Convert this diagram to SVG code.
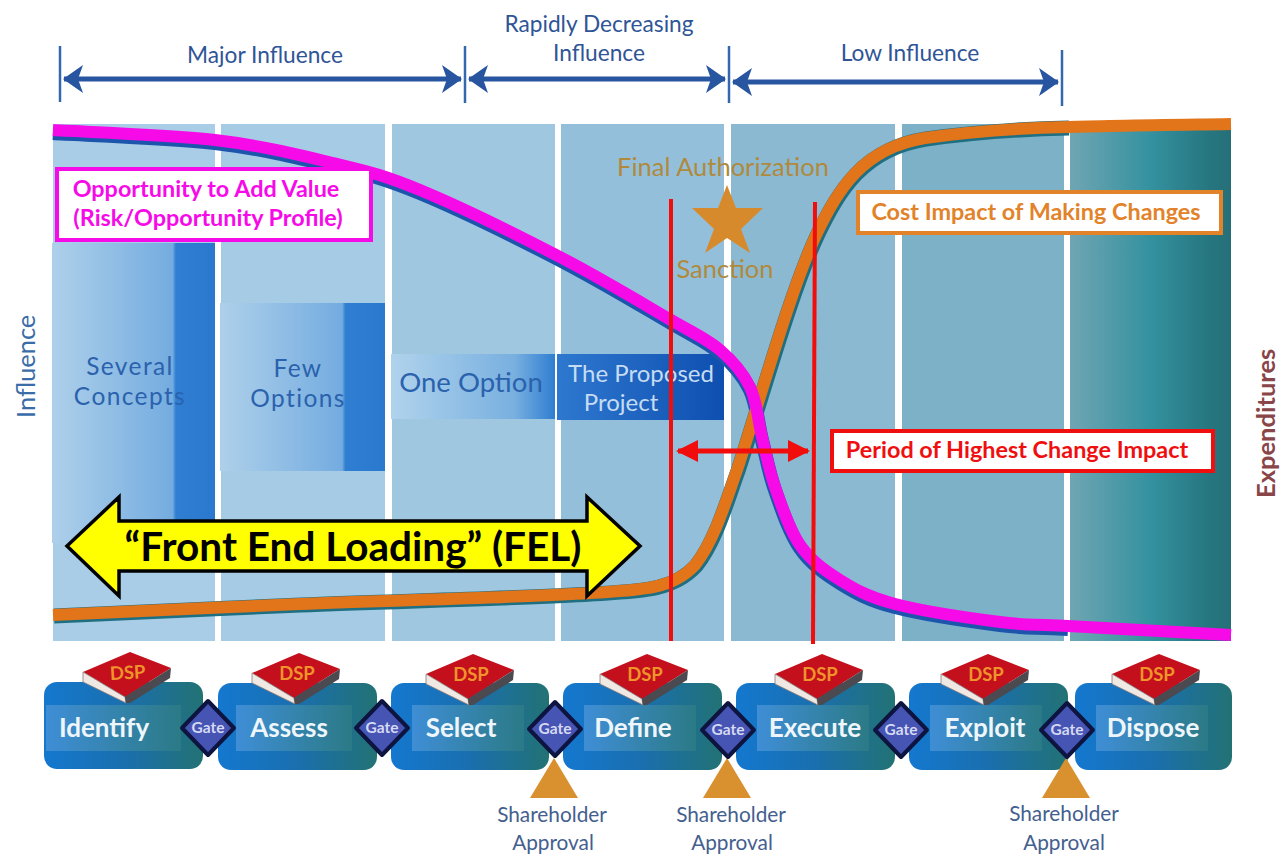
<svg xmlns="http://www.w3.org/2000/svg" xmlns:xlink="http://www.w3.org/1999/xlink" width="1287" height="856" viewBox="0 0 1287 856">
<style>
text{font-family:"Lato","Open Sans","Liberation Sans",sans-serif}
.top{font-size:22.7px;fill:#2f5597;text-anchor:middle}
.inner{font-size:27.5px;fill:#2a62ad;text-anchor:middle}
.tight{font-size:24.5px;letter-spacing:1.4px}
.call{font-size:23.4px;font-weight:700;text-anchor:middle}
.stage{font-size:26px;font-weight:700;fill:#eef6fb;text-anchor:middle}
.gate{font-size:15.5px;font-weight:700;fill:#d5d9f2;text-anchor:middle}
.dsp{font-size:18.5px;font-weight:700;fill:#f0932b;text-anchor:middle}
.sh{font-size:20.8px;fill:#44608f;text-anchor:middle}
.fa{font-size:25.5px;fill:#b08a3c;text-anchor:middle}
.dim{stroke:#2855a0;stroke-width:5;fill:none;marker-start:url(#ab);marker-end:url(#ae)}
.tick{stroke:#3468ad;stroke-width:2.5}
</style>
<defs>
<marker id="ae" markerWidth="5" markerHeight="6" refX="4.4" refY="3" orient="auto" markerUnits="strokeWidth"><path d="M0.6,0.2 L4.6,3 L0.6,5.8 L1.6,3Z" fill="#2855a0"/></marker>
<marker id="ab" markerWidth="5" markerHeight="6" refX="0.6" refY="3" orient="auto" markerUnits="strokeWidth"><path d="M4.4,0.2 L0.4,3 L4.4,5.8 L3.4,3Z" fill="#2855a0"/></marker>
<marker id="re" markerWidth="5" markerHeight="6" refX="4" refY="3" orient="auto" markerUnits="strokeWidth"><path d="M0,0.8 L4.4,3 L0,5.2Z" fill="#f20d0d"/></marker>
<marker id="rb" markerWidth="5" markerHeight="6" refX="0.6" refY="3" orient="auto" markerUnits="strokeWidth"><path d="M4.6,0.8 L0.2,3 L4.6,5.2Z" fill="#f20d0d"/></marker>
<linearGradient id="teal" x1="0" x2="1" y1="0" y2="0"><stop offset="0" stop-color="#70a5b3"/><stop offset="0.5" stop-color="#34919f"/><stop offset="0.85" stop-color="#267780"/><stop offset="1" stop-color="#266f78"/></linearGradient>
<linearGradient id="opt" x1="0" x2="1" y1="0" y2="0"><stop offset="0" stop-color="#aed0ea"/><stop offset="0.74" stop-color="#74ace0"/><stop offset="0.76" stop-color="#2f7ed2"/><stop offset="1" stop-color="#2b79cf"/></linearGradient>
<linearGradient id="opt3" x1="0" x2="1" y1="0" y2="0"><stop offset="0" stop-color="#b0d3ec"/><stop offset="0.75" stop-color="#79b0e0"/><stop offset="1" stop-color="#2f7ed2"/></linearGradient>
<linearGradient id="prop" x1="0" x2="1" y1="0" y2="0"><stop offset="0" stop-color="#2e78cf"/><stop offset="1" stop-color="#0e4fb0"/></linearGradient>
<linearGradient id="stg" x1="0" x2="1" y1="0" y2="0"><stop offset="0" stop-color="#1478cf"/><stop offset="0.5" stop-color="#1a6fae"/><stop offset="1" stop-color="#227274"/></linearGradient>
<linearGradient id="stgi" x1="0" x2="1" y1="0" y2="0"><stop offset="0" stop-color="#3f8ed6"/><stop offset="1" stop-color="#2b7a86"/></linearGradient>
<g id="book">
<path d="M-44,-3 L3,-23 L44,-7 L-2,22 Z" fill="#c4101c"/>
<path d="M-44,-3 L-44,7 L-1,28 L-2,22 Z" fill="#f0e8e2" stroke="#8a7a78" stroke-width="0.8"/>
<path d="M-2,22 L-1,28 L3,28 L43,3 L44,-7 Z" fill="#4a4a50"/>
</g>
<g id="gt"><path d="M0,-27 L26,0 L0,27 L-26,0 Z" fill="#4654b4" stroke="#0e1440" stroke-width="4" stroke-linejoin="round"/><text class="gate" y="5">Gate</text></g>
<path id="tri" d="M0,-40 L24,0 L-24,0 Z" fill="#d9902f"/>
</defs>
<rect width="1287" height="856" fill="#ffffff"/>

<g id="influence-scale">
<line class="tick" x1="60" y1="46" x2="60" y2="102"/>
<line class="tick" x1="465" y1="46" x2="465" y2="103"/>
<line class="tick" x1="729" y1="46" x2="729" y2="103"/>
<line class="tick" x1="1062" y1="50" x2="1062" y2="106"/>
<text class="top" x="265" y="63">Major Influence</text>
<text class="top" x="599" y="32">Rapidly Decreasing</text>
<text class="top" x="599" y="61">Influence</text>
<text class="top" x="910" y="61">Low Influence</text>
</g>

<g id="panels">
<rect x="53" y="124" width="162" height="517" fill="#a9cde6"/>
<rect x="221" y="124" width="164" height="517" fill="#a6cbe4"/>
<rect x="392" y="124" width="163" height="517" fill="#a0c7e0"/>
<rect x="561" y="124" width="163" height="517" fill="#94bfda"/>
<rect x="731" y="124" width="164" height="517" fill="#8bb9d2"/>
<rect x="902" y="124" width="162" height="517" fill="#7db1c8"/>
<rect x="1070" y="124" width="161" height="517" fill="url(#teal)"/>
</g>

<g id="option-blocks">
<rect x="52" y="243" width="163" height="300" fill="url(#opt)"/>
<rect x="220" y="303" width="165" height="168" fill="url(#opt)"/>
<rect x="391" y="354" width="164" height="65" fill="url(#opt3)"/>
<rect x="557" y="354" width="167" height="66" fill="url(#prop)"/>
<text class="inner tight" x="130" y="375">Several</text>
<text class="inner tight" x="130" y="405">Concepts</text>
<text class="inner tight" x="298" y="377">Few</text>
<text class="inner tight" x="298" y="407">Options</text>
<text class="inner" x="471" y="392">One Option</text>
<text class="inner" style="font-size:24px;fill:#c5dcf2"><tspan x="641" y="382">The Proposed</tspan><tspan x="621" y="411">Project</tspan></text>
</g>

<g id="axis-labels">
<text x="35" y="418" transform="rotate(-90 35 418)" style="font-size:25.5px;fill:#3a6ca8">Influence</text>
<text x="1275" y="498" transform="rotate(-90 1275 498)" style="font-size:25.5px;font-weight:700;fill:#8a4548">Expenditures</text>
</g>

<g id="sanction">
<text class="fa" x="723" y="176">Final Authorization</text>
<path d="M727,185 L736,208 L763,208 L741,229 L750,253 L727,238 L705,253 L714,229 L692,208 L718,208 Z" fill="#d78a2c"/>
<text class="fa" x="725" y="278">Sanction</text>
</g>

<g id="connectors">
<line class="dim" x1="64" y1="79" x2="461" y2="79"/>
<line class="dim" x1="469" y1="79" x2="725" y2="79"/>
<line class="dim" x1="733" y1="82" x2="1058" y2="82"/>
<path id="cost-shadow" transform="translate(1,1)" d="M53,615 C94,613.2 210.5,607.7 300,604 C389.5,600.3 526.7,597.3 590,593 C640,590 672,590 695,565 C715,540 727,497 737,470 C760,400 790,290 817,233 C838,190 862,148 925,138 C975,131 1020,128 1068,127" fill="none" stroke="#1f6f82" stroke-width="15"/>
<path id="opp-shadow" transform="translate(0,3)" d="M53,130 C80,131.7 168.3,134.5 215,140 C261.7,145.5 298.8,154.7 333,163 C367.2,171.3 382.2,174.3 420,190 C457.8,205.7 518.2,235.3 560,257 C601.8,278.7 644.3,304.5 671,320 C697.7,335.5 706.8,338.8 720,350 C733.2,361.2 743,372.5 750,387 C757,401.5 757.8,420.3 762,437 C766.2,453.7 768.7,469 775,487 C781.3,505 789.2,529.5 800,545 C810.8,560.5 824.2,570.2 840,580 C855.8,589.8 868.3,597 895,604 C921.7,611 971.2,618.3 1000,622 C1028.8,625.7 1029.5,623.8 1068,626" fill="none" stroke="#1d55ad" stroke-width="14"/>
<path id="cost-curve" d="M53,615 C94,613.2 210.5,607.7 300,604 C389.5,600.3 526.7,597.3 590,593 C640,590 672,590 695,565 C715,540 727,497 737,470 C760,400 790,290 817,233 C838,190 862,148 925,138 C975,131 1020,128 1068,127 C1113,125.5 1204,124.5 1231,124" fill="none" stroke="#e2741a" stroke-width="12"/>
<path id="opp-curve" d="M53,130 C80,131.7 168.3,134.5 215,140 C261.7,145.5 298.8,154.7 333,163 C367.2,171.3 382.2,174.3 420,190 C457.8,205.7 518.2,235.3 560,257 C601.8,278.7 644.3,304.5 671,320 C697.7,335.5 706.8,338.8 720,350 C733.2,361.2 743,372.5 750,387 C757,401.5 757.8,420.3 762,437 C766.2,453.7 768.7,469 775,487 C781.3,505 789.2,529.5 800,545 C810.8,560.5 824.2,570.2 840,580 C855.8,589.8 868.3,597 895,604 C921.7,611 971.2,618.3 1000,622 C1028.8,625.7 1029.5,623.8 1068,626 C1106.5,628.2 1204,633.5 1231,635" fill="none" stroke="#f70ae8" stroke-width="12"/>
<line x1="671" y1="199" x2="671" y2="641" stroke="#f20d0d" stroke-width="4"/>
<line x1="815" y1="202" x2="813" y2="644" stroke="#f20d0d" stroke-width="4"/>
<line x1="678" y1="451" x2="808" y2="451" stroke="#f20d0d" stroke-width="5" marker-start="url(#rb)" marker-end="url(#re)"/>
</g>

<g id="label-opportunity">
<rect x="57" y="169" width="314" height="71" fill="#ffffff" stroke="#f70ae8" stroke-width="4"/>
<text class="call" fill="#f70ae8"><tspan x="206" y="197">Opportunity to Add Value</tspan><tspan x="208" y="226">(Risk/Opportunity Profile)</tspan></text>
</g>
<g id="label-cost">
<rect x="858" y="192" width="363" height="41" fill="#ffffff" stroke="#e2832a" stroke-width="4"/>
<text class="call" x="1036" y="220" fill="#e2832a">Cost Impact of Making Changes</text>
</g>
<g id="label-period">
<rect x="832" y="431" width="381" height="40" fill="#ffffff" stroke="#f00f0f" stroke-width="4"/>
<text class="call" x="1017" y="458" fill="#f00f0f">Period of Highest Change Impact</text>
</g>

<g id="fel">
<path d="M67,546 L119,497 L119,521 L587,521 L587,497 L640,546 L587,596 L587,571 L119,571 L119,596 Z" fill="#ffff00" stroke="#000000" stroke-width="3.5" stroke-linejoin="miter"/>
<text x="353" y="561" text-anchor="middle" style="font-size:40.5px;font-weight:700;fill:#000">“Front End Loading” (FEL)</text>
</g>

<g id="stage-identify"><rect x="44" y="682" width="159" height="87" rx="13" fill="url(#stg)"/><rect x="46" y="705" width="135" height="46" fill="url(#stgi)"/><text class="stage" x="104" y="737">Identify</text><use xlink:href="#book" x="127" y="675"/><text class="dsp" x="128" y="679" transform="rotate(-3 128 679)">DSP</text></g>
<g id="stage-assess"><rect x="218" y="683" width="159" height="87" rx="13" fill="url(#stg)"/><rect x="236" y="705" width="116" height="46" fill="url(#stgi)"/><text class="stage" x="289" y="737">Assess</text><use xlink:href="#book" x="296" y="676"/><text class="dsp" x="297" y="680">DSP</text></g>
<g id="stage-select"><rect x="391" y="683" width="158" height="87" rx="13" fill="url(#stg)"/><rect x="412" y="705" width="112" height="46" fill="url(#stgi)"/><text class="stage" x="461" y="737">Select</text><use xlink:href="#book" x="470" y="677"/><text class="dsp" x="471" y="681">DSP</text></g>
<g id="stage-define"><rect x="563" y="683" width="159" height="87" rx="13" fill="url(#stg)"/><rect x="584" y="705" width="112" height="46" fill="url(#stgi)"/><text class="stage" x="633" y="737">Define</text><use xlink:href="#book" x="644" y="677"/><text class="dsp" x="645" y="681">DSP</text></g>
<g id="stage-execute"><rect x="736" y="683" width="159" height="87" rx="13" fill="url(#stg)"/><rect x="757" y="705" width="112" height="46" fill="url(#stgi)"/><text class="stage" x="815" y="737">Execute</text><use xlink:href="#book" x="819" y="677"/><text class="dsp" x="820" y="681">DSP</text></g>
<g id="stage-exploit"><rect x="909" y="683" width="159" height="87" rx="13" fill="url(#stg)"/><rect x="930" y="705" width="112" height="46" fill="url(#stgi)"/><text class="stage" x="985" y="737">Exploit</text><use xlink:href="#book" x="985" y="677"/><text class="dsp" x="986" y="681">DSP</text></g>
<g id="stage-dispose"><rect x="1075" y="683" width="157" height="87" rx="13" fill="url(#stg)"/><rect x="1096" y="705" width="112" height="46" fill="url(#stgi)"/><text class="stage" x="1153" y="737">Dispose</text><use xlink:href="#book" x="1156" y="677"/><text class="dsp" x="1157" y="681">DSP</text></g>

<g id="approvals">
<use xlink:href="#tri" x="554" y="798"/>
<use xlink:href="#tri" x="727" y="798"/>
<use xlink:href="#tri" x="1066" y="798"/>
</g>
<g id="gates">
<use xlink:href="#gt" x="208" y="728"/>
<use xlink:href="#gt" x="382" y="728"/>
<use xlink:href="#gt" x="555" y="729"/>
<use xlink:href="#gt" x="728" y="730"/>
<use xlink:href="#gt" x="901" y="730"/>
<use xlink:href="#gt" x="1067" y="730"/>
</g>
<g id="approval-labels">
<text class="sh" x="552" y="822">Shareholder</text><text class="sh" x="553" y="850">Approval</text>
<text class="sh" x="731" y="822">Shareholder</text><text class="sh" x="732" y="850">Approval</text>
<text class="sh" x="1064" y="821">Shareholder</text><text class="sh" x="1064" y="850">Approval</text>
</g>
</svg>
